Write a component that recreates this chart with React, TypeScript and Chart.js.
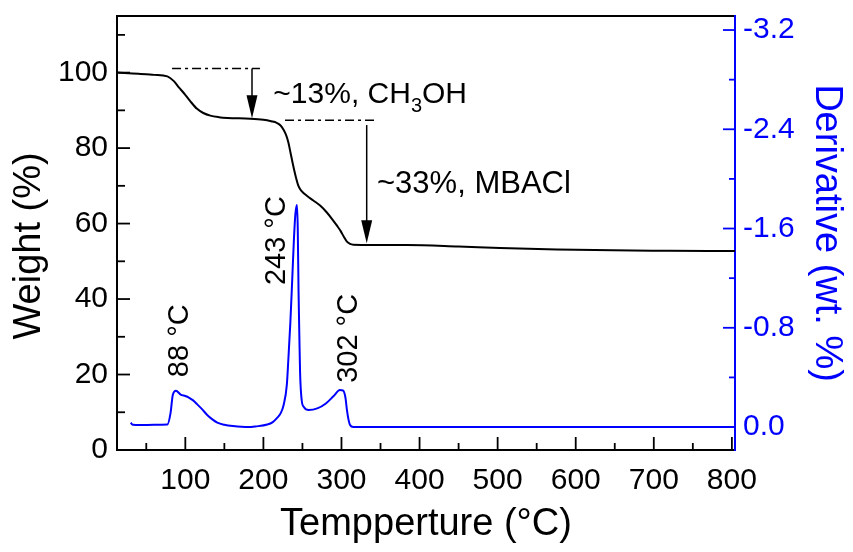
import React, { useEffect, useRef } from 'react';
import { Chart, registerables } from 'chart.js';

Chart.register(...registerables);

const FONT = '"Liberation Sans", Arial, Helvetica, sans-serif';
const BLUE = '#0000ff';
const BLACK = '#000000';

// TGA: temperature (°C) and remaining weight (%)
const tgaTemp = [
  12.5, 40, 60, 77, 85, 92, 98, 106, 115, 123, 132, 143, 154, 183, 200, 210, 217, 222, 226, 229,
  232, 235, 238, 241, 245, 249, 256, 264, 273, 281, 288, 294, 299, 303, 307, 311, 315, 384, 450,
  503, 576, 648, 720, 804,
];
const tgaWeight = [
  100.0, 99.7, 99.4, 99.0, 97.8, 96.0, 94.6, 92.5, 90.4, 89.3, 88.6, 88.2, 88.0, 87.8, 87.5, 87.1,
  86.7, 86.0, 84.8, 83.5, 81.5, 78.5, 75.5, 72.8, 69.9, 68.6, 67.3, 66.1, 64.7, 63.0, 61.2, 59.5,
  58.0, 56.5, 55.2, 54.6, 54.4, 54.3, 53.9, 53.5, 53.1, 52.9, 52.8, 52.7,
];

// DTG: temperature (°C) and derivative weight (wt. %)
const dtgTemp = [
  30, 33, 42, 60, 77, 81, 84, 88, 94, 100, 104, 110, 115, 122, 128, 135, 141, 150, 161, 181, 190,
  205, 212, 217, 222, 226, 230, 232, 234.5, 237, 239, 241, 243, 244, 245, 246, 247, 249, 252, 258,
  269, 280, 290, 298, 302, 305, 307, 309, 311, 315, 400, 600, 803,
];
const dtgDeriv = [
  -0.035, -0.018, -0.016, -0.018, -0.02, -0.11, -0.26, -0.293, -0.262, -0.25, -0.24, -0.215,
  -0.185, -0.14, -0.097, -0.06, -0.035, -0.018, -0.008, 0.0, -0.005, -0.02, -0.04, -0.07, -0.11,
  -0.18, -0.34, -0.55, -0.84, -1.2, -1.5, -1.72, -1.79, -1.6, -1.1, -0.75, -0.435, -0.218, -0.16,
  -0.137, -0.15, -0.19, -0.25, -0.298, -0.295, -0.24, -0.137, -0.06, -0.016, 0.0, 0.0, 0.0, 0.0,
];

// Axis ticks and ranges
const tempTicks = [100, 200, 300, 400, 500, 600, 700, 800];
const weightTicks = [0, 20, 40, 60, 80, 100];
const derivTicks = [-3.2, -2.4, -1.6, -0.8, 0.0];
const tempRange = [12.5, 804];
const weightRange = [0, 115];
const derivRange = [-3.313, 0.185];

// Axis titles
const tempTitle = 'Tempperture (°C)';
const weightTitle = 'Weight (%)';
const derivTitle = 'Derivative (wt. %)';

// Peak temperature labels: text, temperature anchor, weight-axis anchor
const peakLabels = ['88 °C', '243 °C', '302 °C'];
const peakLabelTemp = [103.4, 227.7, 319.5];
const peakLabelWeight = [19.3, 43.7, 17.8];

// Mass-loss steps: reference line, arrow and caption
const stepLevel = [101.1, 87.4];
const stepLineFrom = [83, 227.7];
const stepLineTo = [195.6, 342.9];
const stepArrowTemp = [185.4, 332.3];
const stepArrowTop = [101.1, 86.1];
const stepArrowTip = [87.9, 54.8];
const stepCaptionTemp = [212.7, 345.5];
const stepCaptionWeight = [91.9, 68.1];
const stepCaptionSize = [30, 31];
const stepCaptions: [string, string, string][] = [
  ['~13%, CH', '3', 'OH'],
  ['~33%, MBACl', '', ''],
];

const decorPlugin = {
  id: 'decor',
  afterDatasetsDraw(chart: any) {
    const { ctx, chartArea: a, scales } = chart;
    const xs = scales.x;
    const ys = scales.y;
    const y1 = scales.y1;
    ctx.save();

    // top frame line
    ctx.strokeStyle = BLACK;
    ctx.lineWidth = 2;
    ctx.beginPath();
    ctx.moveTo(a.left, a.top);
    ctx.lineTo(a.right - 1, a.top);
    ctx.stroke();

    // inward tick marks
    ctx.lineWidth = 1.8;
    const drawTicks = (
      scale: any,
      ticks: number[],
      len: number,
      minorLen: number,
      color: string,
      edge: 'bottom' | 'left' | 'right',
    ) => {
      ctx.strokeStyle = color;
      const step = ticks[1] - ticks[0];
      const minors: number[] = [];
      for (let v = ticks[0] - step / 2; v <= ticks[ticks.length - 1] + step / 2 + 1e-9; v += step) {
        if (v >= scale.min && v <= scale.max) minors.push(v);
      }
      const all = [
        ...ticks.map((v) => [v, len]),
        ...minors.map((v) => [v, minorLen]),
      ];
      for (const [v, l] of all) {
        const p = scale.getPixelForValue(v);
        ctx.beginPath();
        if (edge === 'bottom') {
          ctx.moveTo(p, a.bottom);
          ctx.lineTo(p, a.bottom - l);
        } else if (edge === 'left') {
          ctx.moveTo(a.left, p);
          ctx.lineTo(a.left + l, p);
        } else {
          ctx.moveTo(a.right, p);
          ctx.lineTo(a.right - l, p);
        }
        ctx.stroke();
      }
    };
    drawTicks(xs, tempTicks, 13, 7, BLACK, 'bottom');
    drawTicks(ys, weightTicks, 13, 8, BLACK, 'left');
    drawTicks(y1, derivTicks, 12, 6, BLUE, 'right');

    // left axis title, sitting slightly below the plot's mid-height
    ctx.save();
    ctx.fillStyle = BLACK;
    ctx.font = `38px ${FONT}`;
    ctx.textAlign = 'center';
    ctx.textBaseline = 'middle';
    ctx.translate(ys.left + 29.5, (a.top + a.bottom) / 2 + 13);
    ctx.rotate(-Math.PI / 2);
    ctx.fillText(weightTitle, 0, 0);
    ctx.restore();

    // mass-loss steps
    for (let i = 0; i < stepLevel.length; i++) {
      ctx.strokeStyle = BLACK;
      ctx.fillStyle = BLACK;
      ctx.lineWidth = 1.5;
      ctx.setLineDash([9, 4, 3, 4]);
      const ly = ys.getPixelForValue(stepLevel[i]);
      ctx.beginPath();
      ctx.moveTo(xs.getPixelForValue(stepLineFrom[i]), ly);
      ctx.lineTo(xs.getPixelForValue(stepLineTo[i]), ly);
      ctx.stroke();
      ctx.setLineDash([]);

      const ax = xs.getPixelForValue(stepArrowTemp[i]);
      const top = ys.getPixelForValue(stepArrowTop[i]);
      const tip = ys.getPixelForValue(stepArrowTip[i]);
      const head = 23;
      ctx.beginPath();
      ctx.moveTo(ax, top);
      ctx.lineTo(ax, tip - head + 2);
      ctx.stroke();
      ctx.beginPath();
      ctx.moveTo(ax - 5.5, tip - head);
      ctx.lineTo(ax + 5.5, tip - head);
      ctx.lineTo(ax, tip);
      ctx.closePath();
      ctx.fill();

      const [main, sub, rest] = stepCaptions[i];
      const size = stepCaptionSize[i];
      let tx = xs.getPixelForValue(stepCaptionTemp[i]);
      const ty = ys.getPixelForValue(stepCaptionWeight[i]);
      ctx.textAlign = 'left';
      ctx.textBaseline = 'alphabetic';
      ctx.font = `${size}px ${FONT}`;
      ctx.fillText(main, tx, ty);
      tx += ctx.measureText(main).width;
      if (sub) {
        ctx.font = `20px ${FONT}`;
        ctx.fillText(sub, tx, ty + 9);
        tx += ctx.measureText(sub).width;
      }
      if (rest) {
        ctx.font = `${size}px ${FONT}`;
        ctx.fillText(rest, tx, ty);
      }
    }

    // peak temperature labels
    ctx.fillStyle = BLACK;
    ctx.font = `29px ${FONT}`;
    ctx.textAlign = 'left';
    ctx.textBaseline = 'alphabetic';
    for (let i = 0; i < peakLabels.length; i++) {
      ctx.save();
      ctx.translate(xs.getPixelForValue(peakLabelTemp[i]), ys.getPixelForValue(peakLabelWeight[i]));
      ctx.rotate(-Math.PI / 2);
      ctx.fillText(peakLabels[i], 0, 0);
      ctx.restore();
    }
    ctx.restore();
  },
};

// keep the plot frame fixed: no extra room reserved for overhanging tick labels
const noOverhang = (s: any) => {
  s.paddingTop = 0;
  s.paddingBottom = 0;
  s.paddingLeft = 0;
  s.paddingRight = 0;
};

export default function App() {
  const canvasRef = useRef<HTMLCanvasElement | null>(null);

  useEffect(() => {
    const canvas = canvasRef.current;
    if (!canvas) return;
    const chart = new Chart(canvas, {
      type: 'line',
      data: {
        datasets: [
          {
            label: 'Weight',
            data: tgaTemp.map((t, i) => ({ x: t, y: tgaWeight[i] })),
            yAxisID: 'y',
            borderColor: BLACK,
            borderWidth: 2,
            pointRadius: 0,
            cubicInterpolationMode: 'monotone',
          },
          {
            label: 'Derivative',
            data: dtgTemp.map((t, i) => ({ x: t, y: dtgDeriv[i] })),
            yAxisID: 'y1',
            borderColor: BLUE,
            borderWidth: 2,
            pointRadius: 0,
            cubicInterpolationMode: 'monotone',
          },
        ],
      },
      options: {
        responsive: false,
        maintainAspectRatio: false,
        animation: false,
        devicePixelRatio: 1,
        layout: { padding: { top: 16, left: 0, right: 0, bottom: 0 } },
        plugins: { legend: { display: false }, tooltip: { enabled: false } },
        scales: {
          x: {
            type: 'linear',
            position: 'bottom',
            min: tempRange[0],
            max: tempRange[1],
            grid: { display: false, drawTicks: false },
            border: { display: true, color: BLACK, width: 2 },
            ticks: {
              color: BLACK,
              font: { family: FONT, size: 30 },
              padding: 13,
              maxRotation: 0,
              autoSkip: false,
              callback: (v: any) => String(v),
            },
            afterBuildTicks: (s: any) => {
              s.ticks = tempTicks.map((v) => ({ value: v }));
            },
            afterFit: (s: any) => {
              s.height = 102;
              noOverhang(s);
            },
            title: {
              display: true,
              text: tempTitle,
              color: BLACK,
              font: { family: FONT, size: 38 },
              padding: { top: 0, bottom: 5 },
            },
          },
          y: {
            type: 'linear',
            position: 'left',
            min: weightRange[0],
            max: weightRange[1],
            grid: { display: false, drawTicks: false },
            border: { display: true, color: BLACK, width: 2 },
            ticks: {
              color: BLACK,
              font: { family: FONT, size: 30 },
              padding: 9,
              callback: (v: any) => String(v),
            },
            afterBuildTicks: (s: any) => {
              s.ticks = weightTicks.map((v) => ({ value: v }));
            },
            afterFit: (s: any) => {
              s.width = 117;
              noOverhang(s);
            },
            title: { display: false },
          },
          y1: {
            type: 'linear',
            position: 'right',
            reverse: true,
            min: derivRange[0],
            max: derivRange[1],
            grid: { display: false, drawTicks: false },
            border: { display: true, color: BLUE, width: 2 },
            ticks: {
              color: BLUE,
              font: { family: FONT, size: 30 },
              padding: 8,
              callback: (v: any) => Number(v).toFixed(1),
            },
            afterBuildTicks: (s: any) => {
              s.ticks = derivTicks.map((v) => ({ value: v }));
            },
            afterFit: (s: any) => {
              s.width = 118;
              noOverhang(s);
            },
            title: {
              display: true,
              text: derivTitle,
              color: BLUE,
              font: { family: FONT, size: 38 },
              padding: { top: 4, bottom: 0 },
            },
          },
        },
      },
      plugins: [decorPlugin],
    } as any);
    return () => chart.destroy();
  }, []);

  return (
    <div style={{ position: 'fixed', left: 0, top: 0, width: 853, height: 552, background: '#fff' }}>
      <canvas ref={canvasRef} width={853} height={552} style={{ display: 'block', width: 853, height: 552 }} />
    </div>
  );
}
